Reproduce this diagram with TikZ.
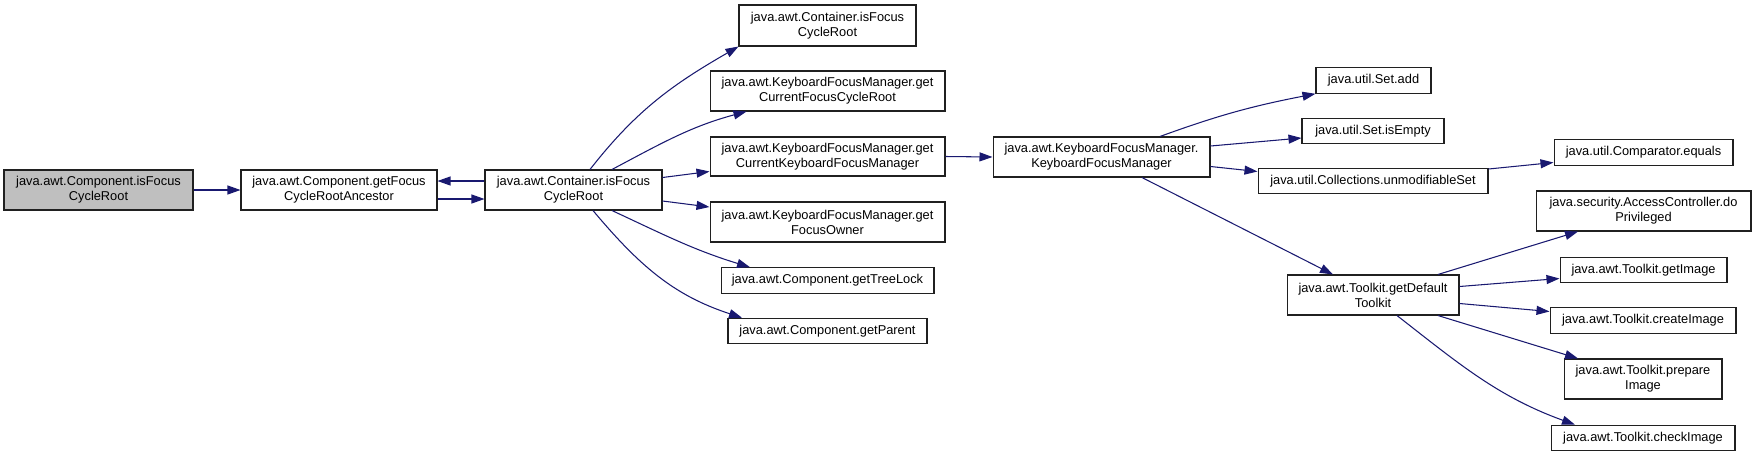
\documentclass[tikz,border=0pt]{standalone}
\usepackage{fontspec}
\setmainfont{Liberation Sans}
\usepackage{tikz}
\usetikzlibrary{arrows.meta, positioning}
\definecolor{CallBlue}{RGB}{25,25,112}
\definecolor{RootGray}{HTML}{BFBFBF}
\definecolor{BoxBorder}{HTML}{202020}
\tikzset{
    % Box styles for the functions
    fnbox/.style={
        rectangle,
        draw=BoxBorder,
        fill=white,
        line width=0.6pt,
        inner sep=0pt,
        minimum height=0.8cm,
        align=center,
        font=\fontsize{7.3}{8.6}\selectfont
    },
    fnbox root/.style={
        fnbox,
        fill=RootGray
    },
    fnbox flat/.style={
        fnbox,
        minimum height=0.51cm
    },
    call arrow/.style={
        -{Triangle[length=0.26cm,width=0.18cm]},
        line width=0.6pt,
        CallBlue
    }
}
\begin{document}
\begin{tikzpicture}[x=0.02cm, y=0.02cm]
        \useasboundingbox (0,0) rectangle (1756,-457);

        % Caller chain
        \node[fnbox root, minimum width=3.78cm] (root) at (98.5,-190) {java.awt.Component.isFocus\\CycleRoot};
        \node[fnbox, minimum width=3.92cm] (ancestor) at (339,-190) {java.awt.Component.getFocus\\CycleRootAncestor};
        \node[fnbox, minimum width=3.54cm] (controot) at (573.5,-190) {java.awt.Container.isFocus\\CycleRoot};

        % Calls of Container.isFocusCycleRoot
        \node[fnbox, minimum width=3.54cm, minimum height=0.82cm] (conttop) at (827.5,-25.5) {java.awt.Container.isFocus\\CycleRoot};
        \node[fnbox, minimum width=4.7cm] (curroot) at (827.5,-91) {java.awt.KeyboardFocusManager.get\\CurrentFocusCycleRoot};
        \node[fnbox, minimum width=4.7cm, minimum height=0.78cm] (curkfm) at (827.5,-156.5) {java.awt.KeyboardFocusManager.get\\CurrentKeyboardFocusManager};
        \node[fnbox, minimum width=4.7cm] (owner) at (827.5,-222) {java.awt.KeyboardFocusManager.get\\FocusOwner};
        \node[fnbox flat, minimum width=4.26cm] (treelock) at (827.5,-280.5) {java.awt.Component.getTreeLock};
        \node[fnbox flat, minimum width=3.98cm] (parent) at (827.5,-331) {java.awt.Component.getParent};

        % Keyboard focus manager
        \node[fnbox, minimum width=4.34cm] (kfm) at (1101.5,-157) {java.awt.KeyboardFocusManager.\\KeyboardFocusManager};
        \node[fnbox flat, minimum width=2.3cm] (setadd) at (1373.5,-80.5) {java.util.Set.add};
        \node[fnbox flat, minimum width=2.84cm] (setempty) at (1373,-131) {java.util.Set.isEmpty};
        \node[fnbox flat, minimum width=4.6cm] (unmodset) at (1373,-181) {java.util.Collections.unmodifiableSet};
        \node[fnbox, minimum width=3.44cm] (toolkit) at (1373,-295) {java.awt.Toolkit.getDefault\\Toolkit};

        % Leaves
        \node[fnbox flat, minimum width=3.58cm] (cmpequals) at (1643.5,-152.5) {java.util.Comparator.equals};
        \node[fnbox, minimum width=4.3cm] (dopriv) at (1643.5,-211) {java.security.AccessController.do\\Privileged};
        \node[fnbox flat, minimum width=3.34cm] (getimage) at (1643.5,-270) {java.awt.Toolkit.getImage};
        \node[fnbox flat, minimum width=3.72cm] (createimage) at (1643,-320.5) {java.awt.Toolkit.createImage};
        \node[fnbox, minimum width=3.16cm] (prepimage) at (1643,-379) {java.awt.Toolkit.prepare\\Image};
        \node[fnbox flat, minimum width=3.68cm] (checkimage) at (1643,-438) {java.awt.Toolkit.checkImage};

        % Arrows
        \draw[call arrow] (root.east) -- (ancestor.west);
        \draw[call arrow] ([yshift=-0.18cm]ancestor.east) -- ([yshift=-0.18cm]controot.west);
        \draw[call arrow] ([yshift=0.18cm]controot.west) -- ([yshift=0.18cm]ancestor.east);

        \draw[call arrow] ([xshift=0.33cm]controot.north) to[out=52, in=210] (conttop.south west);
        \draw[call arrow] ([xshift=0.77cm]controot.north) to[out=28, in=195] ([xshift=0.74cm]curroot.south west);
        \draw[call arrow] ([yshift=0.25cm]controot.east) -- ([yshift=-0.3cm]curkfm.west);
        \draw[call arrow] ([yshift=-0.22cm]controot.east) -- ([yshift=0.3cm]owner.west);
        \draw[call arrow] ([xshift=0.77cm]controot.south) to[out=-25, in=163] ([xshift=-1.55cm]treelock.north);
        \draw[call arrow] ([xshift=0.39cm]controot.south) to[out=-50, in=162] ([xshift=-1.71cm]parent.north);

        \draw[call arrow] (curkfm.east) -- (kfm.west);

        \draw[call arrow] ([xshift=1.17cm]kfm.north) to[out=20, in=191] (setadd.south west);
        \draw[call arrow] ([yshift=0.22cm]kfm.east) -- ([yshift=-0.14cm]setempty.west);
        \draw[call arrow] ([yshift=-0.19cm]kfm.east) -- ([yshift=0.19cm]unmodset.west);
        \draw[call arrow] ([xshift=0.81cm]kfm.south) -- ([xshift=-0.8cm]toolkit.north);

        \draw[call arrow] ([yshift=0.24cm]unmodset.east) -- ([yshift=-0.2cm]cmpequals.west);

        \draw[call arrow] ([xshift=1.3cm]toolkit.north) -- ([xshift=-1.31cm]dopriv.south);
        \draw[call arrow] ([yshift=0.17cm]toolkit.east) -- ([yshift=-0.17cm]getimage.west);
        \draw[call arrow] ([yshift=-0.17cm]toolkit.east) -- ([yshift=0.18cm]createimage.west);
        \draw[call arrow] ([xshift=1.3cm]toolkit.south) -- ([xshift=-1.3cm]prepimage.north);
        \draw[call arrow] ([xshift=0.48cm]toolkit.south) to[out=-38, in=160] ([xshift=-1.36cm]checkimage.north);
    \end{tikzpicture}
\end{document}
